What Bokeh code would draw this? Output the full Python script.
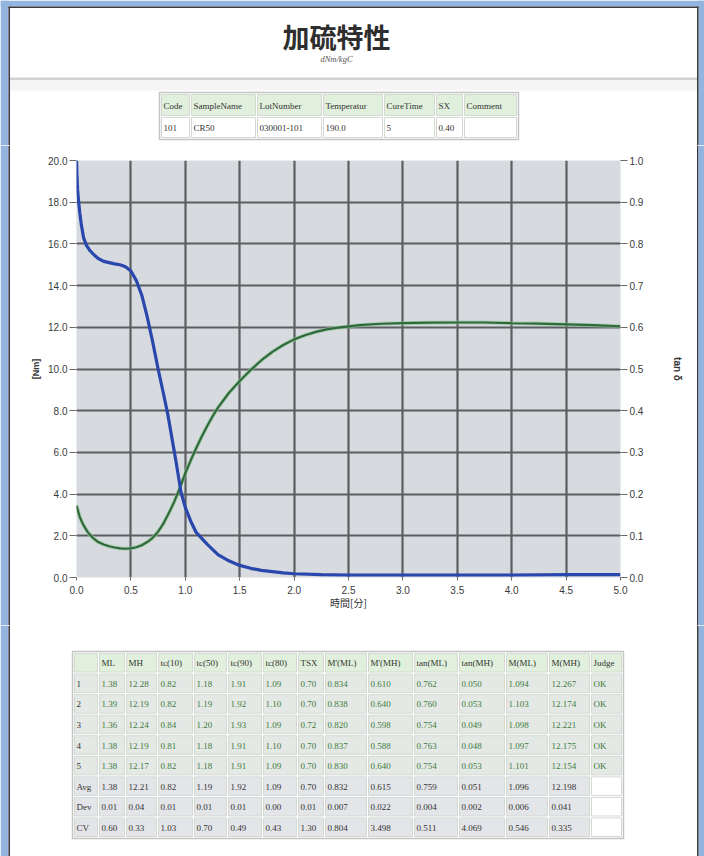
from bokeh.plotting import figure
from bokeh.models import Range1d, LinearAxis, FixedTicker, NumeralTickFormatter, ColumnDataSource
from bokeh.layouts import column, row
from bokeh.embed import file_html
from bokeh.resources import INLINE
from bokeh.core.properties import value

# ---------------- data ----------------
title_text = "加硫特性"
subtitle_text = "dNm/kgC"

# torque curve (left axis)
time_torque = [0.0, 0.03, 0.06, 0.1, 0.15, 0.2, 0.25, 0.3, 0.35, 0.4, 0.45, 0.5, 0.55, 0.6, 0.65,
               0.7, 0.75, 0.8, 0.85, 0.9, 0.95, 1.0, 1.05, 1.1, 1.15, 1.2, 1.25, 1.3, 1.4, 1.5, 1.6,
               1.7, 1.8, 1.9, 2.0, 2.1, 2.2, 2.3, 2.4, 2.5, 2.6, 2.8, 3.0, 3.25, 3.5, 3.75,
               4.0, 4.25, 4.5, 4.75, 5.0]
torque = [3.45, 2.9, 2.55, 2.2, 1.9, 1.7, 1.58, 1.5, 1.44, 1.4, 1.38, 1.4, 1.45, 1.55, 1.7,
          1.9, 2.2, 2.6, 3.1, 3.65, 4.3, 5.0, 5.62, 6.2, 6.75, 7.25, 7.72, 8.15, 8.85, 9.42, 9.95,
          10.42, 10.82, 11.15, 11.42, 11.62, 11.78, 11.9, 11.98, 12.04, 12.1, 12.17, 12.2, 12.22, 12.23, 12.23,
          12.2, 12.18, 12.14, 12.1, 12.05]

# tan delta curve (right axis)
time_tan = [0.0, 0.005, 0.01, 0.02, 0.03, 0.045, 0.065, 0.09, 0.12, 0.16, 0.2, 0.25, 0.3, 0.35,
            0.4, 0.45, 0.5, 0.55, 0.6, 0.65, 0.7, 0.75, 0.8, 0.84, 0.88, 0.92, 0.96, 1.0, 1.05,
            1.1, 1.2, 1.3, 1.4, 1.5, 1.6, 1.7, 1.8, 1.9, 2.0, 2.25, 2.5, 3.0, 3.5, 4.0, 4.5, 5.0]
tan_delta = [1.0, 0.96, 0.93, 0.9, 0.875, 0.845, 0.815, 0.797, 0.785, 0.774, 0.765, 0.758, 0.755, 0.752,
             0.75, 0.745, 0.735, 0.712, 0.677, 0.625, 0.565, 0.5, 0.44, 0.39, 0.33, 0.27, 0.205, 0.168, 0.135,
             0.108, 0.08, 0.055, 0.04, 0.029, 0.022, 0.017, 0.014, 0.011, 0.009, 0.007, 0.006, 0.006, 0.006, 0.006, 0.007, 0.007]

x_ticks = [0.0, 0.5, 1.0, 1.5, 2.0, 2.5, 3.0, 3.5, 4.0, 4.5, 5.0]
y_ticks = [0.0, 2.0, 4.0, 6.0, 8.0, 10.0, 12.0, 14.0, 16.0, 18.0, 20.0]
tan_ticks = [0.0, 0.1, 0.2, 0.3, 0.4, 0.5, 0.6, 0.7, 0.8, 0.9, 1.0]

# info table
info_headers = ["Code", "SampleName", "LotNumber", "Temperatur", "CureTime", "SX", "Comment"]
info_values = ["101", "CR50", "030001-101", "190.0", "5", "0.40", ""]

# result table
res_headers = ["", "ML", "MH", "tc(10)", "tc(50)", "tc(90)", "tc(80)", "TSX", "M'(ML)", "M'(MH)",
               "tan(ML)", "tan(MH)", "M(ML)", "M(MH)", "Judge"]
row_labels = ["1", "2", "3", "4", "5", "Avg", "Dev", "CV"]
col_ML = ["1.38", "1.39", "1.36", "1.38", "1.38", "1.38", "0.01", "0.60"]
col_MH = ["12.28", "12.19", "12.24", "12.19", "12.17", "12.21", "0.04", "0.33"]
col_tc10 = ["0.82", "0.82", "0.84", "0.81", "0.82", "0.82", "0.01", "1.03"]
col_tc50 = ["1.18", "1.19", "1.20", "1.18", "1.18", "1.19", "0.01", "0.70"]
col_tc90 = ["1.91", "1.92", "1.93", "1.91", "1.91", "1.92", "0.01", "0.49"]
col_tc80 = ["1.09", "1.10", "1.09", "1.10", "1.09", "1.09", "0.00", "0.43"]
col_TSX = ["0.70", "0.70", "0.72", "0.70", "0.70", "0.70", "0.01", "1.30"]
col_MpML = ["0.834", "0.838", "0.820", "0.837", "0.830", "0.832", "0.007", "0.804"]
col_MpMH = ["0.610", "0.640", "0.598", "0.588", "0.640", "0.615", "0.022", "3.498"]
col_tanML = ["0.762", "0.760", "0.754", "0.763", "0.754", "0.759", "0.004", "0.511"]
col_tanMH = ["0.050", "0.053", "0.049", "0.048", "0.053", "0.051", "0.002", "4.069"]
col_MML = ["1.094", "1.103", "1.098", "1.097", "1.101", "1.096", "0.006", "0.546"]
col_MMH = ["12.267", "12.174", "12.221", "12.175", "12.154", "12.198", "0.041", "0.335"]
col_judge = ["OK", "OK", "OK", "OK", "OK", "", "", ""]

# ---------------- layout constants ----------------
W = 704
H_HEAD, H_CHART, H_TAB = 145, 480, 231
LSTRIP, RSTRIP = 10, 8
SERIF = value("Liberation Serif")
CJK = value("Noto Sans CJK JP")

BLUE = "#94b4e0"
EDGE = "#3a3a3a"
HDR_FILL = "#e1f0dc"
ROW_FILL = "#e5e9e6"
STAT_FILL = "#e3e5e8"
GREEN_TXT = "#3b7a3b"
DARK_TXT = "#333333"


def blank_fig(w, h):
    p = figure(width=w, height=h, x_range=Range1d(0, w), y_range=Range1d(h, 0),
               x_axis_type=None, y_axis_type=None, toolbar_location=None,
               output_backend="svg", min_border=0, frame_align=False)
    p.grid.visible = False
    p.outline_line_color = None
    p.background_fill_color = "white"
    p.border_fill_color = "white"
    return p


def page_edges(p, h, top=False):
    p.quad(left=0, right=8, top=0, bottom=h, fill_color=BLUE, line_color=None)
    p.quad(left=8, right=9.5, top=6 if top else 0, bottom=h, fill_color=EDGE, line_color=None)
    p.quad(left=698, right=W, top=0, bottom=h, fill_color=BLUE, line_color=None)
    p.quad(left=696.5, right=698, top=6 if top else 0, bottom=h, fill_color=EDGE, line_color=None)
    if top:
        p.quad(left=0, right=W, top=0, bottom=6, fill_color=BLUE, line_color=None)
        p.quad(left=8, right=698, top=6, bottom=7.5, fill_color=EDGE, line_color=None)


def draw_table(p, xs, ys, fills, texts, colors, outer="#c4c4c4"):
    L, R, T, B, F = [], [], [], [], []
    tx, ty, tt, tc = [], [], [], []
    for r in range(len(ys) - 1):
        for c in range(len(xs) - 1):
            L.append(xs[c] + 1)
            R.append(xs[c + 1] - 1)
            T.append(ys[r] + 1)
            B.append(ys[r + 1] - 1)
            F.append(fills[r][c])
            if texts[r][c]:
                tx.append(xs[c] + 3)
                ty.append((ys[r] + ys[r + 1]) / 2 + 0.5)
                tt.append(texts[r][c])
                tc.append(colors[r][c])
    p.quad(left=xs[0] - 1, right=xs[-1] + 1, top=ys[0] - 1, bottom=ys[-1] + 1,
           fill_color="white", line_color=outer, line_width=1.5)
    p.quad(left=L, right=R, top=T, bottom=B, fill_color=F, line_color="#d3d8d3", line_width=1)
    src = ColumnDataSource(dict(x=tx, y=ty, t=tt, c=tc))
    p.text(x="x", y="y", text="t", text_color="c", source=src, text_font=SERIF,
           text_font_size="9px", text_baseline="middle", text_align="left")


# ---------------- header ----------------
head = blank_fig(W, H_HEAD)
page_edges(head, H_HEAD, top=True)
head.text(x=[336], y=[36], text=[title_text], text_font=CJK, text_font_style="bold",
          text_font_size="27px", text_align="center", text_baseline="middle", text_color="#2e2e2e")
head.text(x=[336], y=[58], text=[subtitle_text], text_font=SERIF, text_font_style="italic",
          text_font_size="8.5px", text_align="center", text_baseline="middle", text_color="#555555")
head.quad(left=9.5, right=696.5, top=79, bottom=90, fill_color="#f5f5f5", line_color=None)
head.quad(left=9.5, right=696.5, top=77, bottom=79.5, fill_color="#d2d2d2", line_color=None)

info_x = [160, 190, 256, 322, 383, 435, 463, 517]
info_y = [93, 116, 138]
draw_table(head, info_x, info_y,
           [[HDR_FILL] * 7, ["white"] * 7],
           [info_headers, info_values],
           [[DARK_TXT] * 7, [DARK_TXT] * 7])

# ---------------- chart ----------------
CW = W - LSTRIP - RSTRIP
p = figure(width=CW, height=H_CHART, x_range=Range1d(0, 5), y_range=Range1d(0, 20),
           toolbar_location=None, output_backend="svg", frame_align=False,
           min_border_left=66, min_border_right=76, min_border_top=15, min_border_bottom=48)
p.extra_y_ranges = {"tan": Range1d(0, 1)}
p.background_fill_color = "#d7dade"
p.border_fill_color = "white"
p.outline_line_color = None

p.xgrid.ticker = FixedTicker(ticks=x_ticks[1:-1])
p.ygrid.ticker = FixedTicker(ticks=y_ticks[1:-1])
p.grid.grid_line_color = "#5c5e60"
p.grid.grid_line_width = 2.2

p.xaxis.ticker = FixedTicker(ticks=x_ticks)
p.yaxis.ticker = FixedTicker(ticks=y_ticks)
p.xaxis.formatter = NumeralTickFormatter(format="0.0")
p.yaxis.formatter = NumeralTickFormatter(format="0.0")

right = LinearAxis(y_range_name="tan", ticker=FixedTicker(ticks=tan_ticks),
                   formatter=NumeralTickFormatter(format="0.0"))
p.add_layout(right, "right")

for ax in [p.xaxis[0], p.yaxis[0], right]:
    ax.axis_line_color = None
    ax.major_tick_line_color = "#6a6a6a"
    ax.major_tick_in = 0
    ax.minor_tick_line_color = None
    ax.major_label_text_font = "Liberation Sans"
    ax.major_label_text_font_size = "10px"
    ax.major_label_text_color = "#3a3a3a"
    ax.major_label_standoff = 2

p.yaxis[0].major_tick_out = 7
right.major_tick_out = 7
p.xaxis[0].major_tick_out = 3
p.xaxis[0].major_label_standoff = 5

p.xaxis.axis_label = "時間[分]"
p.xaxis.axis_label_text_font = "Noto Sans CJK JP"
p.xaxis.axis_label_text_font_size = "10px"
p.xaxis.axis_label_text_font_style = "normal"
p.xaxis.axis_label_text_color = "#333333"
p.xaxis.axis_label_standoff = -2

p.yaxis[0].axis_label = "[Nm]"
p.yaxis[0].axis_label_text_font = "Liberation Sans"
p.yaxis[0].axis_label_text_font_size = "9px"
p.yaxis[0].axis_label_text_font_style = "bold"
p.yaxis[0].axis_label_text_color = "#333333"
p.yaxis[0].axis_label_standoff = 4

right.axis_label = "tan δ"
right.axis_label_text_font = "Liberation Sans"
right.axis_label_text_font_size = "10px"
right.axis_label_text_font_style = "bold"
right.axis_label_text_color = "#333333"
right.axis_label_standoff = 26

p.line(time_torque, torque, line_color="#8fc79a", line_width=4, line_alpha=0.6)
p.line(time_torque, torque, line_color="#2f6a3a", line_width=2.2)
p.line(time_tan, tan_delta, y_range_name="tan", line_color="#2a47ad", line_width=3.2)

lstrip = blank_fig(LSTRIP, H_CHART)
lstrip.quad(left=0, right=8, top=0, bottom=H_CHART, fill_color=BLUE, line_color=None)
lstrip.quad(left=8, right=9.5, top=0, bottom=H_CHART, fill_color=EDGE, line_color=None)
rstrip = blank_fig(RSTRIP, H_CHART)
rstrip.quad(left=0.5, right=2, top=0, bottom=H_CHART, fill_color=EDGE, line_color=None)
rstrip.quad(left=2, right=RSTRIP, top=0, bottom=H_CHART, fill_color=BLUE, line_color=None)

# ---------------- result table ----------------
tab = blank_fig(W, H_TAB)
page_edges(tab, H_TAB)
res_x = [73, 98, 125, 157, 193, 227, 262, 297, 324, 367, 413, 458, 505, 548, 590, 622]
row_h = 20.56
res_y = [27 + i * row_h for i in range(10)]

data_cols = [col_ML, col_MH, col_tc10, col_tc50, col_tc90, col_tc80, col_TSX, col_MpML,
             col_MpMH, col_tanML, col_tanMH, col_MML, col_MMH, col_judge]
texts = [res_headers]
fills = [[HDR_FILL] * 15]
colors = [[DARK_TXT] * 15]
for r, lab in enumerate(row_labels):
    texts.append([lab] + [c[r] for c in data_cols])
    if r < 5:
        fills.append([ROW_FILL] * 15)
        colors.append([DARK_TXT] + [GREEN_TXT] * 14)
    else:
        fills.append([STAT_FILL] * 14 + ["white"])
        colors.append([DARK_TXT] * 15)
draw_table(tab, res_x, res_y, fills, texts, colors)

layout = column(head, row(lstrip, p, rstrip, spacing=0), tab, spacing=0)
open("out.html", "w").write(file_html(layout, INLINE))
